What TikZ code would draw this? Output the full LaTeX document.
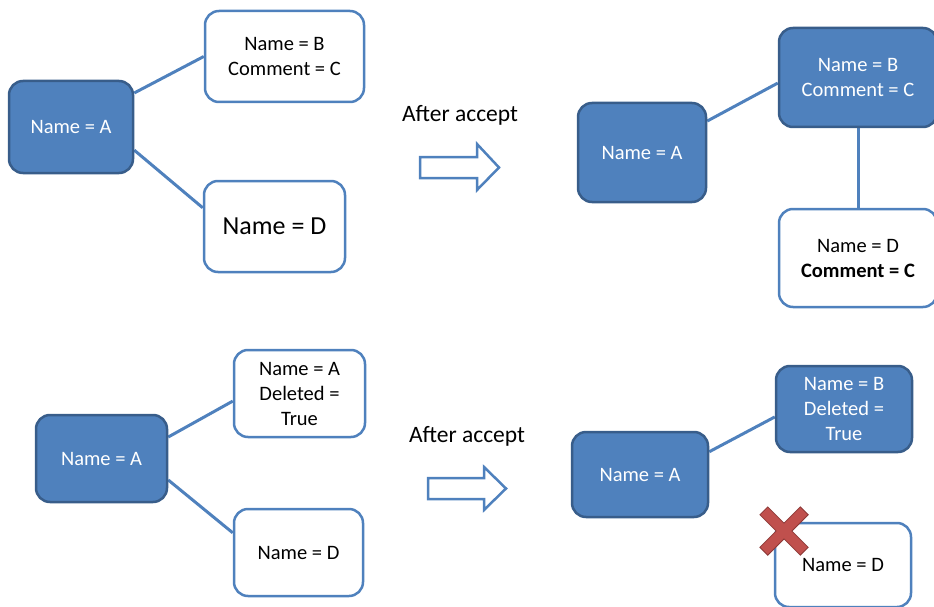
\documentclass[tikz,border=0pt]{standalone}
\usepackage{fontspec}
\setmainfont{Carlito}
\usetikzlibrary{calc,backgrounds}

\definecolor{boxblue}{HTML}{4F81BD}
\definecolor{boxedge}{HTML}{385D8A}
\definecolor{crossred}{HTML}{C0504D}
\definecolor{crossedge}{HTML}{8C3836}

\tikzset{
  basebox/.style={rounded corners=14pt, line width=2.5pt, inner sep=0pt, align=center,
    font=\fontsize{20.5}{25}\selectfont},
  bluebox/.style={basebox, fill=boxblue, draw=boxedge, text=white},
  whitebox/.style={basebox, fill=white, draw=boxblue, text=black},
  link/.style={draw=boxblue, line width=3pt},
  blockarrow/.style={draw=boxblue, fill=white, line width=2.5pt, line join=miter},
  caption/.style={font=\fontsize{23.5}{28}\selectfont, text=black},
}

\begin{document}
\begin{tikzpicture}[x=1pt, y=-1pt]
\useasboundingbox (0,0) rectangle (934,607);

% ---- before (top) ----
\node[bluebox, minimum width=124pt, minimum height=92pt] (a1) at (71,127) {Name = A};
\node[whitebox, minimum width=159pt, minimum height=91pt] (b1) at (284.5,56.5) {Name = B\\Comment = C};
\node[whitebox, minimum width=141pt, minimum height=91pt, font=\fontsize{26}{30}\selectfont] (d1) at (274.5,226.5) {Name = D};

% ---- after (top) ----
\node[bluebox, minimum width=128pt, minimum height=99pt] (a2) at (642,152.5) {Name = A};
\node[bluebox, minimum width=158pt, minimum height=99pt] (b2) at (858,77.5) {Name = B\\Comment = C};
\node[whitebox, minimum width=158pt, minimum height=98pt] (d2) at (858,258) {Name = D\\\textbf{Comment = C}};

% ---- before (bottom) ----
\node[bluebox, minimum width=131pt, minimum height=87pt] (a3) at (101.5,458.5) {Name = A};
\node[whitebox, minimum width=131pt, minimum height=87pt] (b3) at (299.5,393.5) {Name = A\\Deleted =\\True};
\node[whitebox, minimum width=129pt, minimum height=87pt] (d3) at (298.5,552.5) {Name = D};

% ---- after (bottom) ----
\node[bluebox, minimum width=136pt, minimum height=85pt] (a4) at (640,474.5) {Name = A};
\node[bluebox, minimum width=136pt, minimum height=86pt] (b4) at (844,409) {Name = B\\Deleted =\\True};
\node[whitebox, minimum width=136pt, minimum height=84pt] (d4) at (843,565) {Name = D};

% connectors, kept behind the boxes
\begin{pgfonlayer}{background}
  \draw[link] ($(a1.east)!0.72!(a1.north east)$) -- (b1.west);
  \draw[link] ($(a1.east)!0.49!(a1.south east)$) -- ($(d1.west)!0.4!(d1.north west)$);
  \draw[link] ($(a2.east)!0.62!(a2.north east)$) -- ($(b2.west)!0.11!(b2.south west)$);
  \draw[link] (b2.south) -- (d2.north);
  \draw[link] ($(a3.east)!0.48!(a3.north east)$) -- ($(b3.west)!0.17!(b3.south west)$);
  \draw[link] ($(a3.east)!0.48!(a3.south east)$) -- ($(d3.west)!0.44!(d3.north west)$);
  \draw[link] ($(a4.east)!0.52!(a4.north east)$) -- ($(b4.west)!0.18!(b4.south west)$);
\end{pgfonlayer}

% "After accept" labels and block arrows
\node[caption] (cap1) at (460,115) {After accept};
\draw[blockarrow] (420,157) -- (477,157) -- (477,144) -- (499,167.5) -- (477,190) -- (477,178) -- (420,178) -- cycle;
\node[caption] (cap2) at (467,436) {After accept};
\draw[blockarrow] (428,478) -- (484,478) -- (484,467) -- (506,488.5) -- (484,510) -- (484,499) -- (428,499) -- cycle;

% red cross over the deleted node
\begin{scope}[shift={(784,531)}]
  \foreach \ang in {45,-45} {
    \fill[crossedge, rotate=\ang] (-29,-6) rectangle (29,6);
  }
  \foreach \ang in {45,-45} {
    \fill[crossred, rotate=\ang] (-28,-5) rectangle (28,5);
  }
\end{scope}
\end{tikzpicture}
\end{document}
